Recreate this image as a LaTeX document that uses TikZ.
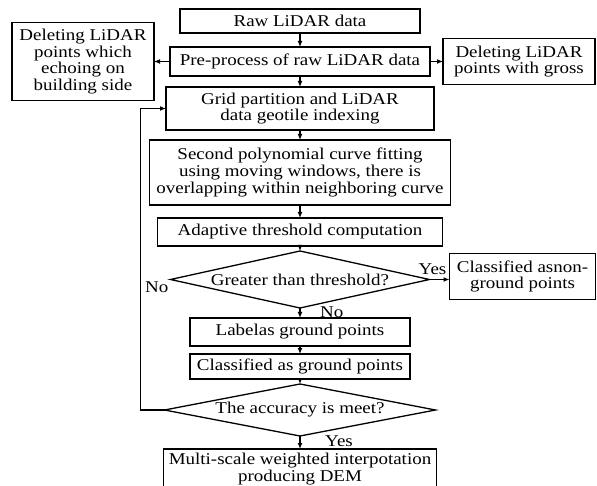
\documentclass[tikz,border=0pt]{standalone}
\usepackage{fontspec}
\setmainfont{Liberation Serif}[FakeStretch=1.15]
\usepackage{tikz}
\usetikzlibrary{shapes.geometric, arrows.meta, positioning}
\setlength{\lineskiplimit}{-10pt}

\begin{document}
\begin{tikzpicture}[
        node distance=10pt,
        every node/.style={font=\fontsize{16.5}{16.8}\selectfont},
        stepbox/.style={rectangle, draw, line width=1.3pt, inner sep=2pt, outer sep=0pt, align=center},
        decision/.style={diamond, draw, line width=1.3pt, inner sep=0pt, outer sep=0pt, aspect=1},
        lbl/.style={inner sep=0pt},
        arr/.style={-{Latex[length=6pt,width=5pt]}, line width=1.3pt}
    ]
        \useasboundingbox (0,0) rectangle (597pt,-486pt);

        % Main chain
        \node[stepbox, minimum width=240pt, minimum height=24pt] at (300pt,-21pt) (raw) {Raw LiDAR data};
        \node[stepbox, minimum width=260pt, minimum height=29pt, below=14pt of raw] (pre) {Pre-process of raw LiDAR data};
        \node[stepbox, minimum width=268pt, minimum height=43pt, below=11pt of pre] (grid) {Grid partition and LiDAR\\data geotile indexing};
        \node[stepbox, minimum width=301pt, minimum height=65pt, below=10pt of grid] (fit) {Second polynomial curve fitting\\using moving windows, there is\\overlapping within neighboring curve};
        \node[stepbox, minimum width=285pt, minimum height=28pt, below=13pt of fit] (thr) {Adaptive threshold computation};
        \node[decision, minimum width=259pt, minimum height=57pt, below=5pt of thr] (cmp) {\makebox[0pt]{Greater than threshold?}};
        \node[stepbox, minimum width=220pt, minimum height=28pt, below=10pt of cmp] (lab) {Labelas ground points};
        \node[stepbox, minimum width=220pt, minimum height=25pt, below=8pt of lab] (gnd) {Classified as ground points};
        \node[decision, minimum width=271pt, minimum height=52pt, below=5pt of gnd] (acc) {\makebox[0pt]{The accuracy is meet?}};
        \node[stepbox, minimum width=273pt, minimum height=40pt, below=13pt of acc] (dem) {Multi-scale weighted interpotation\\producing DEM};

        % Side boxes
        \node[stepbox, minimum width=142pt, minimum height=78pt, left=16pt of pre] (side) {Deleting LiDAR\\points which\\echoing on\\building side};
        \node[stepbox, minimum width=152pt, minimum height=46pt, right=13pt of pre] (gross) {Deleting LiDAR\\points with gross};
        \node[stepbox, minimum width=146pt, minimum height=46pt, right=20pt of cmp, yshift=3pt] (nong) {Classified asnon-\\ground points};

        % Connections
        \draw[arr] (raw) -- (pre);
        \draw[arr] (pre) -- (grid);
        \draw[arr] (grid) -- (fit);
        \draw[arr] (fit) -- (thr);
        \draw[arr] (thr) -- (cmp);
        \draw[arr] (cmp) -- (lab);
        \draw[arr] (lab) -- (gnd);
        \draw[arr] (gnd) -- (acc);
        \draw[arr] (acc) -- (dem);
        \draw[arr] (pre) -- (side);
        \draw[arr] (pre) -- (gross);
        \draw[arr] (cmp.east) -- (cmp.east -| nong.west);
        \draw[arr] (acc.west) -- ++(-24pt,0) |- (grid.west);

        % Branch labels
        \node[lbl, above=5pt of cmp.east, xshift=3pt] (yes1) {Yes};
        \node[lbl, right=20pt of cmp.south, yshift=-4pt] (no1) {No};
        \node[lbl, below left=2pt and 2pt of cmp.west] (no2) {No};
        \node[lbl, right=25pt of acc.south, yshift=-5pt] (yes2) {Yes};
    \end{tikzpicture}
\end{document}
